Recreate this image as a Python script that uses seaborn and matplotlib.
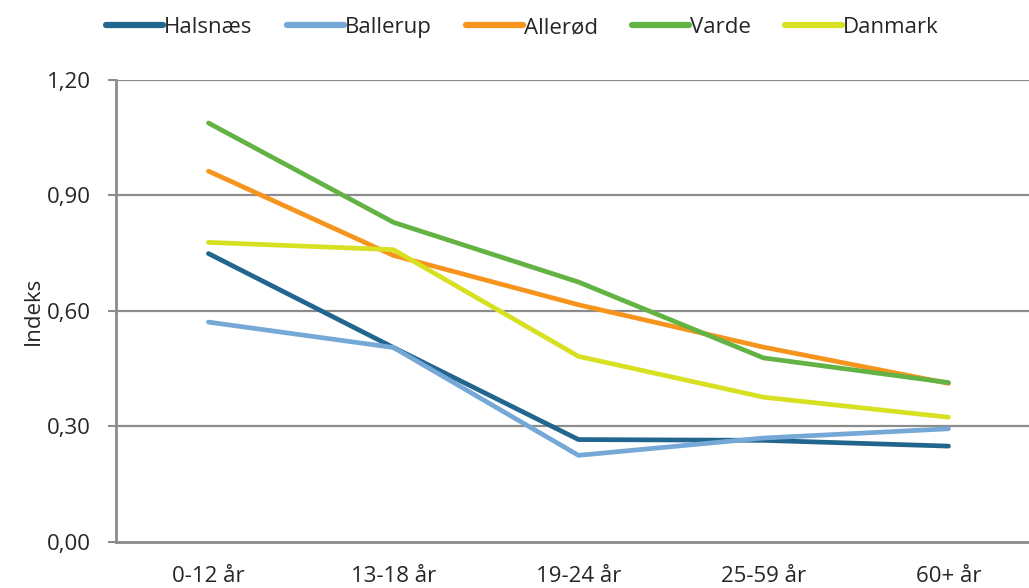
import numpy as np
import pandas as pd
import matplotlib
matplotlib.use("Agg")
import matplotlib.pyplot as plt
import seaborn as sns

categories = ["0-12 år", "13-18 år", "19-24 år", "25-59 år", "60+ år"]
halsnaes = [0.749, 0.505, 0.266, 0.264, 0.249]
ballerup = [0.571, 0.505, 0.225, 0.270, 0.294]
alleroed = [0.963, 0.744, 0.616, 0.506, 0.412]
varde = [1.088, 0.830, 0.675, 0.478, 0.414]
danmark = [0.778, 0.759, 0.482, 0.376, 0.324]
series_names = ["Halsnæs", "Ballerup", "Allerød", "Varde", "Danmark"]
colors = ["#22668F", "#75A8D6", "#F7941D", "#62B244", "#D7E021"]
yticks = [0.0, 0.3, 0.6, 0.9, 1.2]
ytick_labels = ["0,00", "0,30", "0,60", "0,90", "1,20"]

sns.set_theme(style="white")
plt.rcParams['font.family'] = ['Open Sans', 'DejaVu Sans']

rows = []
for name, vals in zip(series_names, [halsnaes, ballerup, alleroed, varde, danmark]):
    for i, v in enumerate(vals):
        rows.append({"x": i, "Indeks": v, "serie": name})
df = pd.DataFrame(rows)

FS = 16

fig = plt.figure(figsize=(10.29, 5.88), dpi=100)
ax = fig.add_axes([0.1127, 0.0782, 0.8873, 0.786])

for y in yticks[1:]:
    ax.axhline(y, color="#8C8C8C", lw=1.6, zorder=0)

sns.lineplot(data=df, x="x", y="Indeks", hue="serie", hue_order=series_names,
             palette=colors, linewidth=3.4, sort=False, ax=ax, legend=True,
             solid_capstyle="round")

ax.set_xlim(-0.5, 4.435)
ax.set_ylim(0, 1.2)
ax.set_yticks(yticks)
ax.set_yticklabels(ytick_labels, fontsize=FS)
ax.set_xticks(range(len(categories)))
ax.set_xticklabels(categories, fontsize=FS)
ax.set_xlabel("")
ax.set_ylabel("Indeks", fontsize=FS, labelpad=2)
ax.tick_params(axis="y", length=6, width=1.5, color="#8C8C8C", pad=12, left=True)
ax.tick_params(axis="x", length=0, pad=17)
for s in ["top", "right"]:
    ax.spines[s].set_visible(False)
for s in ["left", "bottom"]:
    ax.spines[s].set_color("#8C8C8C")
    ax.spines[s].set_linewidth(2)

handles, labels = ax.get_legend_handles_labels()
ax.get_legend().remove()
for h in handles:
    h.set_linewidth(4.5)
fig.legend(handles, labels, loc="center", bbox_to_anchor=(0.508, 0.953), ncol=5,
           frameon=False, fontsize=FS, handlelength=2.55, handletextpad=0.05,
           columnspacing=1.55)

fig.savefig("out.png", dpi=100)
